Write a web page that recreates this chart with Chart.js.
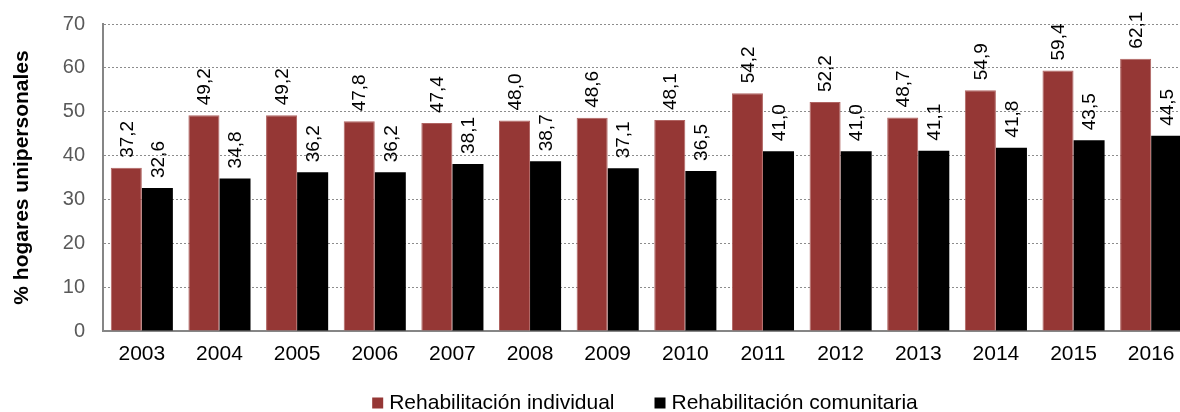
<!DOCTYPE html>
<html>
<head>
<meta charset="utf-8">
<script src="https://cdn.jsdelivr.net/npm/chart.js@4/dist/chart.umd.min.js"></script>
<style>
  html, body { margin: 0; padding: 0; background: #fff; overflow: hidden; }
  #wrap { position: relative; width: 1190px; height: 412px; }
</style>
</head>
<body>
<div id="wrap"><canvas id="chart"></canvas></div>
<script>
// データ
var years = ['2003', '2004', '2005', '2006', '2007', '2008', '2009', '2010', '2011', '2012', '2013', '2014', '2015', '2016'];
var individual = [37.2, 49.2, 49.2, 47.8, 47.4, 48.0, 48.6, 48.1, 54.2, 52.2, 48.7, 54.9, 59.4, 62.1];
var comunitaria = [32.6, 34.8, 36.2, 36.2, 38.1, 38.7, 37.1, 36.5, 41.0, 41.0, 41.1, 41.8, 43.5, 44.5];
var seriesNames = ['Rehabilitación individual', 'Rehabilitación comunitaria'];

var FONT = '"Liberation Sans", Arial, sans-serif';

// 棒の上に縦書きの値ラベル
var valueLabels = {
  id: 'valueLabels',
  afterDatasetsDraw: function(chart) {
    var ctx = chart.ctx;
    ctx.save();
    ctx.font = '19px ' + FONT;
    ctx.fillStyle = '#000';
    ctx.textAlign = 'left';
    ctx.textBaseline = 'middle';
    chart.data.datasets.forEach(function(ds, i) {
      var meta = chart.getDatasetMeta(i);
      meta.data.forEach(function(bar, j) {
        var txt = ds.data[j].toFixed(1).replace('.', ',');
        ctx.save();
        ctx.translate(bar.x + 1, bar.y - 10);
        ctx.rotate(-Math.PI / 2);
        ctx.fillText(txt, 0, 0);
        ctx.restore();
      });
    });
    ctx.restore();
  }
};

// 下部の凡例（間隔を広めに取るため自前で描画）
var bottomLegend = {
  id: 'bottomLegend',
  afterDraw: function(chart) {
    var ctx = chart.ctx;
    var box = 11, gapText = 6, gapItem = 40, cx = 645, cy = 403;
    ctx.save();
    ctx.font = '21px ' + FONT;
    ctx.textBaseline = 'middle';
    var items = chart.data.datasets.map(function(ds) {
      return { text: ds.label, color: ds.backgroundColor, w: box + gapText + ctx.measureText(ds.label).width };
    });
    var total = items.reduce(function(s, it) { return s + it.w; }, 0) + gapItem * (items.length - 1);
    var x = cx - total / 2;
    items.forEach(function(it) {
      ctx.fillStyle = it.color;
      ctx.fillRect(x, cy - box / 2, box, box);
      ctx.fillStyle = '#000';
      ctx.fillText(it.text, x + box + gapText, cy);
      x += it.w + gapItem;
    });
    ctx.restore();
  }
};

new Chart(document.getElementById('chart'), {
  type: 'bar',
  data: {
    labels: years,
    datasets: [
      {
        label: seriesNames[0],
        data: individual,
        backgroundColor: '#953735',
        borderColor: '#b06462',
        borderWidth: 1,
        categoryPercentage: 0.8,
        barPercentage: 1.0
      },
      {
        label: seriesNames[1],
        data: comunitaria,
        backgroundColor: '#000000',
        categoryPercentage: 0.8,
        barPercentage: 1.0
      }
    ]
  },
  options: {
    responsive: true,
    maintainAspectRatio: false,
    animation: false,
    layout: { padding: { top: 24, left: 0, right: 0, bottom: 36 } },
    scales: {
      x: {
        grid: { display: false, drawTicks: false },
        border: { color: '#868686', width: 2 },
        ticks: { color: '#000', font: { family: FONT, size: 21 }, padding: 11 },
        afterFit: function(scale) { scale.height = 45; scale.paddingLeft = 0; scale.paddingRight = 0; }
      },
      y: {
        min: 0,
        max: 70,
        ticks: { stepSize: 10, color: '#595959', font: { family: FONT, size: 20 }, padding: 18 },
        grid: { color: '#8c8c8c', lineWidth: 1, drawTicks: false },
        border: { color: '#868686', width: 2, dash: [2, 2] },
        title: {
          display: true,
          text: '% hogares unipersonales',
          color: '#000',
          font: { family: FONT, size: 21, weight: 'bold' },
          padding: { top: 10, bottom: 0 }
        },
        afterFit: function(scale) { scale.width = 103; scale.paddingTop = 0; scale.paddingBottom = 0; }
      }
    },
    plugins: {
      legend: { display: false },
      tooltip: { enabled: false }
    }
  },
  plugins: [valueLabels, bottomLegend]
});
</script>
</body>
</html>
